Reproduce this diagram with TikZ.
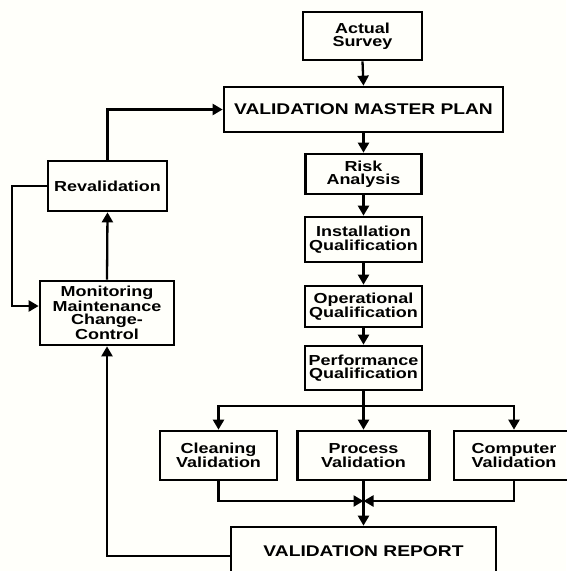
\documentclass[tikz,border=0pt]{standalone}
\usepackage{fontspec}
\setmainfont{Liberation Sans}[FakeStretch=1.24]
\usetikzlibrary{arrows.meta}
\begin{document}
\begin{tikzpicture}[x=1pt,y=-1pt,
  box/.style={draw=black, line width=2.7pt, fill=none, inner sep=0pt, align=center,
    font=\bfseries\fontsize{14.5}{13.5}\selectfont},
  bigbox/.style={box, font=\bfseries\fontsize{15.5}{15.5}\selectfont},
  arr/.style={line width=2.3pt, -{Triangle[length=10pt,width=11pt]}},
  ln/.style={line width=2.3pt}]
\fill[white!98!yellow] (0,0) rectangle (566,571);
\useasboundingbox (0,0) rectangle (566,571);

\node[box, minimum width=119pt, minimum height=48pt] (survey) at (362.5,36) {Actual\\Survey};
\node[bigbox, minimum width=279pt, minimum height=45pt] (vmp) at (363.5,109.5) {VALIDATION MASTER PLAN};
\node[box, minimum width=116pt, minimum height=40pt] (risk) at (363.5,174) {Risk\\Analysis};
\node[box, minimum width=117pt, minimum height=45pt] (inst) at (363.5,239.5) {Installation\\Qualification};
\node[box, minimum width=117pt, minimum height=41pt] (oper) at (363.5,306.5) {Operational\\Qualification};
\node[box, minimum width=117pt, minimum height=44pt] (perf) at (363.5,368) {Performance\\Qualification};
\node[box, minimum width=117pt, minimum height=49pt] (clean) at (218.5,455.5) {Cleaning\\Validation};
\node[box, minimum width=132pt, minimum height=49pt] (proc) at (363.5,455.5) {Process\\Validation};
\node[box, minimum width=120pt, minimum height=49pt] (comp) at (514,455.5) {Computer\\Validation};
\node[bigbox, minimum width=265pt, minimum height=48pt] (report) at (363.5,551) {VALIDATION REPORT};
\node[box, minimum width=119pt, minimum height=50pt] (reval) at (107.5,186) {Revalidation};
\node[box, minimum width=134pt, minimum height=64pt] (mon) at (107,313) {Monitoring\\Maintenance\\Change-\\Control};

\coordinate (split) at (363.5,406);
\coordinate (merge) at (363.5,501);
\coordinate (loop) at (12,186);

\draw[arr] (survey.south) -- (vmp.north);
\draw[arr] (vmp.south) -- (risk.north);
\draw[arr] (risk.south) -- (inst.north);
\draw[arr] (inst.south) -- (oper.north);
\draw[arr] (oper.south) -- (perf.north);
\draw[ln] (perf.south) -- (split);
\draw[arr] (split) -| (clean.north);
\draw[arr] (split) -| (comp.north);
\draw[arr] (split) -- (proc.north);
\draw[arr] (clean.south) |- (merge);
\draw[arr] (comp.south) |- (merge);
\draw[arr] (proc.south) -- (report.north);
\draw[arr] ([yshift=-5pt]report.west) -| (mon.south);
\draw[arr] (mon.north) -- (reval.south);
\draw[arr] (reval.north) |- (vmp.west);
\draw[arr] (reval.west) -- (loop) |- ([yshift=7pt]mon.west);
\end{tikzpicture}
\end{document}
